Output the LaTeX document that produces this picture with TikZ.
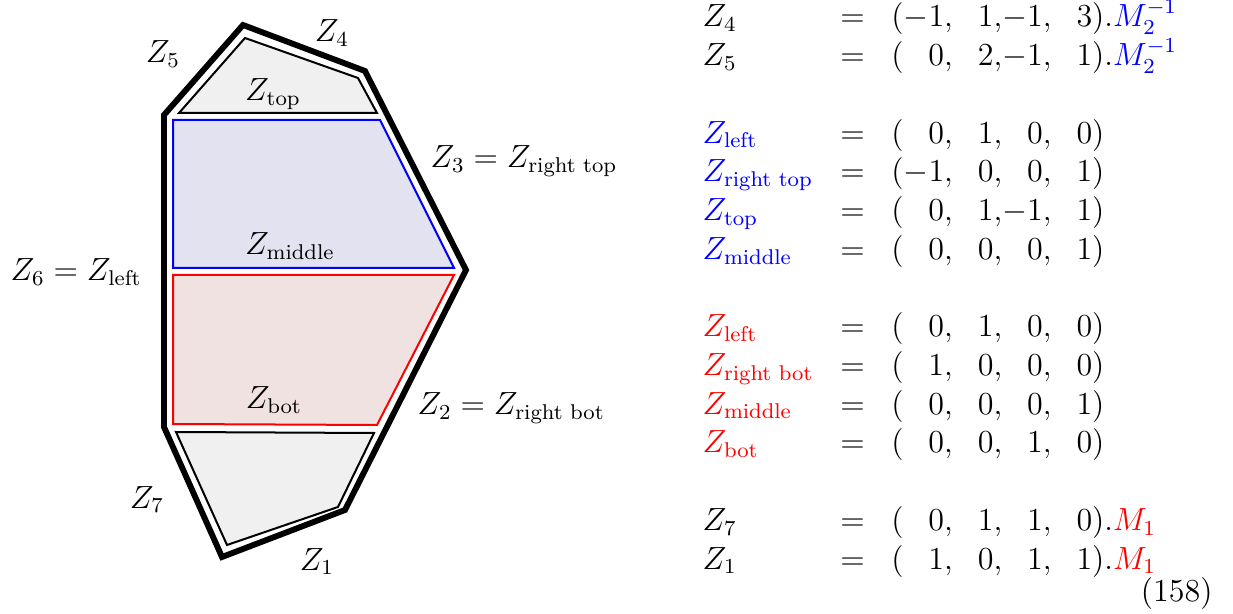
\documentclass[12pt,tikz,border=0pt]{standalone}
\usepackage{amsmath}
\definecolor{capfill}{gray}{0.94}
\definecolor{midfill}{RGB}{226,226,241}
\definecolor{botfill}{RGB}{241,226,226}
\newcommand{\pz}{\phantom{-}}
\begin{document}
\begin{tikzpicture}[x=0.3745pt,y=-0.3745pt,
		hull/.style={line width=2.2pt},
		region/.style={line width=0.75pt},
		lbl/.style={inner sep=0pt}]
		\useasboundingbox (0,0) rectangle (1233,614);

		% outer polygon
		\draw[hull] (243,25) -- (365,71) -- (466,270) -- (345,510) -- (222,557) -- (164,427) -- (164,115) -- cycle;

		% pieces inside
		\draw[region, fill=capfill] (179,113) -- (245,38) -- (358,78) -- (377,113) -- cycle;
		\draw[region, draw=blue, fill=midfill] (173,120) -- (380,120) -- (454,268) -- (173,268) -- cycle;
		\draw[region, draw=red, fill=botfill] (173,275) -- (454,275) -- (377,425) -- (173,424) -- cycle;
		\draw[region, fill=capfill] (176,432) -- (374,433) -- (338,507) -- (227,545) -- cycle;

		\node[lbl, anchor=base] (z5) at (163,63) {$Z_5$};
		\node[lbl, anchor=base] (z4) at (332,42) {$Z_4$};
		\node[lbl, anchor=base] (ztop) at (273,101) {$Z_{\text{top}}$};
		\node[lbl, anchor=base west] (z3) at (430,168) {$Z_3 = Z_{\text{right top}}$};
		\node[lbl, anchor=base] (zmid) at (290,255) {$Z_{\text{middle}}$};
		\node[lbl, anchor=base west] (z6) at (10,281) {$Z_6 = Z_{\text{left}}$};
		\node[lbl, anchor=base] (zbot) at (274,409) {$Z_{\text{bot}}$};
		\node[lbl, anchor=base west] (z2) at (417,415) {$Z_2 = Z_{\text{right bot}}$};
		\node[lbl, anchor=base] (z7) at (147,508) {$Z_7$};
		\node[lbl, anchor=base] (z1) at (317,570) {$Z_1$};

		% equations
		\node[lbl, anchor=base west] (eqs) at (702,27) {$\begin{array}[t]{@{}lcl@{}}
			Z_4 & = & ({-1}{,}\pz1{,}{-1}{,}\pz3).\textcolor{blue}{M_2^{-1}}\\
			Z_5 & = & (\pz0{,}\pz2{,}{-1}{,}\pz1).\textcolor{blue}{M_2^{-1}}\\
			& & \\
			\textcolor{blue}{Z_{\text{left}}} & = & (\pz0{,}\pz1{,}\pz0{,}\pz0)\\
			\textcolor{blue}{Z_{\text{right top}}} & = & ({-1}{,}\pz0{,}\pz0{,}\pz1)\\
			\textcolor{blue}{Z_{\text{top}}} & = & (\pz0{,}\pz1{,}{-1}{,}\pz1)\\
			\textcolor{blue}{Z_{\text{middle}}} & = & (\pz0{,}\pz0{,}\pz0{,}\pz1)\\
			& & \\
			\textcolor{red}{Z_{\text{left}}} & = & (\pz0{,}\pz1{,}\pz0{,}\pz0)\\
			\textcolor{red}{Z_{\text{right bot}}} & = & (\pz1{,}\pz0{,}\pz0{,}\pz0)\\
			\textcolor{red}{Z_{\text{middle}}} & = & (\pz0{,}\pz0{,}\pz0{,}\pz1)\\
			\textcolor{red}{Z_{\text{bot}}} & = & (\pz0{,}\pz0{,}\pz1{,}\pz0)\\
			& & \\
			Z_7 & = & (\pz0{,}\pz1{,}\pz1{,}\pz0).\textcolor{red}{M_1}\\
			Z_1 & = & (\pz1{,}\pz0{,}\pz1{,}\pz1).\textcolor{red}{M_1}
		\end{array}$};
		\node[lbl, anchor=base east] (eqno) at (1213,601) {(158)};

	\end{tikzpicture}
\end{document}
